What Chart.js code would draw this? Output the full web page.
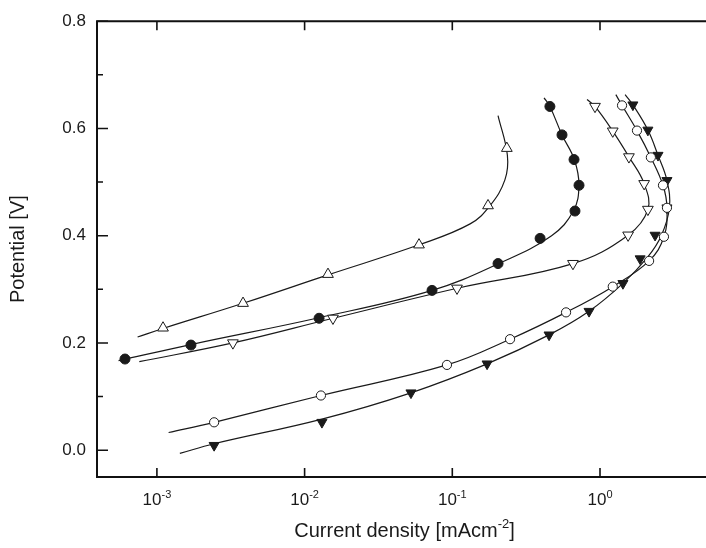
<!DOCTYPE html>
<html>
<head>
<meta charset="utf-8">
<script src="https://cdn.jsdelivr.net/npm/chart.js@4.4.1/dist/chart.umd.min.js"></script>
<style>
  html, body { margin: 0; padding: 0; background: #fff; }
  canvas { display: block; }
</style>
</head>
<body>
<canvas id="polChart" width="706" height="548"></canvas>
<script>
// axis ticks
const yTicks = [0, 0.2, 0.4, 0.6, 0.8];
const yMinorTicks = [0.1, 0.3, 0.5, 0.7];
const xDecades = [-3, -2, -1, 0];

// open triangles (up)
const triUpX = [0.0011, 0.00383, 0.0144, 0.0595, 0.1745, 0.234];
const triUpY = [0.228, 0.274, 0.328, 0.383, 0.456, 0.563];
const triUpFitX = [0.00074, 0.0011, 0.00383, 0.0144, 0.0595, 0.132, 0.18, 0.227, 0.236, 0.204];
const triUpFitY = [0.211, 0.227, 0.274, 0.327, 0.383, 0.422, 0.456, 0.504, 0.55, 0.624];

// filled circles
const dotX = [0.000608, 0.0017, 0.01253, 0.0729, 0.204, 0.393, 0.677, 0.721, 0.667, 0.553, 0.458];
const dotY = [0.170, 0.196, 0.246, 0.298, 0.348, 0.395, 0.446, 0.494, 0.542, 0.588, 0.641];
const dotFitX = [0.00055, 0.0017, 0.0125, 0.073, 0.21, 0.47, 0.66, 0.72, 0.67, 0.553, 0.458, 0.418];
const dotFitY = [0.167, 0.197, 0.247, 0.298, 0.349, 0.400, 0.446, 0.494, 0.542, 0.588, 0.641, 0.657];

// open triangles (down)
const triDnX = [0.00327, 0.01556, 0.1076, 0.656, 1.55, 2.11, 1.99, 1.57, 1.22, 0.925];
const triDnY = [0.200, 0.246, 0.302, 0.348, 0.401, 0.449, 0.497, 0.547, 0.595, 0.641];
const triDnFitX = [0.00076, 0.00327, 0.0156, 0.108, 0.656, 1.55, 2.11, 1.99, 1.57, 1.22, 0.925, 0.817];
const triDnFitY = [0.165, 0.200, 0.246, 0.302, 0.348, 0.401, 0.449, 0.497, 0.547, 0.595, 0.641, 0.654];

// open circles
const ringX = [0.00244, 0.0129, 0.092, 0.246, 0.589, 1.22, 2.15, 2.71, 2.84, 2.67, 2.21, 1.78, 1.41];
const ringY = [0.052, 0.102, 0.159, 0.207, 0.257, 0.305, 0.353, 0.398, 0.452, 0.494, 0.546, 0.596, 0.643];
const ringFitX = [0.0012, 0.00244, 0.0129, 0.092, 0.246, 0.589, 1.22, 2.15, 2.71, 2.84, 2.67, 2.21, 1.78, 1.41, 1.28];
const ringFitY = [0.033, 0.052, 0.102, 0.159, 0.207, 0.257, 0.305, 0.353, 0.398, 0.452, 0.494, 0.546, 0.596, 0.643, 0.663];

// filled triangles (down)
const solidX = [0.00244, 0.0131, 0.0525, 0.172, 0.452, 0.843, 1.43, 1.87, 2.36, 2.84, 2.84, 2.47, 2.11, 1.67];
const solidY = [0.009, 0.052, 0.107, 0.161, 0.215, 0.259, 0.311, 0.357, 0.401, 0.452, 0.503, 0.550, 0.597, 0.644];
const solidFitX = [0.00143, 0.00244, 0.0131, 0.0525, 0.172, 0.452, 0.843, 1.43, 2.1, 2.6, 2.95, 2.84, 2.47, 2.11, 1.67, 1.48];
const solidFitY = [-0.006, 0.012, 0.058, 0.107, 0.161, 0.215, 0.259, 0.311, 0.360, 0.400, 0.452, 0.503, 0.550, 0.597, 0.644, 0.663];

const ink = '#1a1a1a';
const fontFamily = 'Arial, "Liberation Sans", Helvetica, sans-serif';

function pts(xs, ys) {
    return xs.map((x, i) => ({ x: x, y: ys[i] }));
}

function fitLine(xs, ys) {
    return {
        data: pts(xs, ys),
        showLine: true,
        pointRadius: 0,
        borderColor: ink,
        borderWidth: 1.2,
        tension: 0.4,
        order: 2
    };
}

function markers(xs, ys, style, radius, rotation, fill) {
    return {
        data: pts(xs, ys),
        showLine: false,
        pointStyle: style,
        pointRadius: radius,
        pointRotation: rotation,
        pointBackgroundColor: fill,
        pointBorderColor: ink,
        pointBorderWidth: 1,
        order: 1
    };
}

// draws parts like [['10', 17, 0], ['-3', 11, 7]] centred on cx
function drawParts(ctx, parts, cx, baseY) {
    let total = 0;
    parts.forEach(p => {
        ctx.font = p[1] + 'px ' + fontFamily;
        total += ctx.measureText(p[0]).width;
    });
    let x0 = cx - total / 2;
    parts.forEach(p => {
        ctx.font = p[1] + 'px ' + fontFamily;
        ctx.fillText(p[0], x0, baseY - p[2]);
        x0 += ctx.measureText(p[0]).width;
    });
}

const framePlugin = {
    id: 'frame',
    afterDraw(chart) {
        const ctx = chart.ctx;
        const a = chart.chartArea;
        const xs = chart.scales.x;
        const ys = chart.scales.y;
        ctx.save();
        ctx.strokeStyle = '#111';
        ctx.lineWidth = 2;
        ctx.beginPath();
        ctx.moveTo(a.right, a.top);
        ctx.lineTo(a.left, a.top);
        ctx.lineTo(a.left, a.bottom);
        ctx.lineTo(a.right, a.bottom);
        ctx.stroke();

        ctx.lineWidth = 1.6;
        ctx.beginPath();
        yTicks.forEach(v => {
            const py = ys.getPixelForValue(v);
            ctx.moveTo(a.left, py);
            ctx.lineTo(a.left + 11, py);
        });
        yMinorTicks.forEach(v => {
            const py = ys.getPixelForValue(v);
            ctx.moveTo(a.left, py);
            ctx.lineTo(a.left + 6, py);
        });
        xDecades.forEach(d => {
            const px = xs.getPixelForValue(Math.pow(10, d));
            ctx.moveTo(px, a.bottom);
            ctx.lineTo(px, a.bottom - 9);
            ctx.moveTo(px, a.top);
            ctx.lineTo(px, a.top + 9);
        });
        ctx.stroke();

        ctx.fillStyle = ink;
        ctx.textAlign = 'left';
        ctx.textBaseline = 'alphabetic';
        xDecades.forEach(d => {
            const px = xs.getPixelForValue(Math.pow(10, d));
            drawParts(ctx, [['10', 17, 0], [String(d), 11, 7]], px, 505);
        });
        drawParts(ctx, [['Current density [mAcm', 20, 0], ['-2', 13, 9], [']', 20, 0]],
            (a.left + a.right) / 2 + 3, 537);
        ctx.restore();
    }
};

new Chart(document.getElementById('polChart'), {
    type: 'scatter',
    data: {
        datasets: [
            markers(triUpX, triUpY, 'triangle', 6.2, 0, '#fff'),
            markers(dotX, dotY, 'circle', 5, 0, ink),
            markers(triDnX, triDnY, 'triangle', 6.2, 180, '#fff'),
            markers(ringX, ringY, 'circle', 4.6, 0, '#fff'),
            markers(solidX, solidY, 'triangle', 5.8, 180, ink),
            fitLine(triUpFitX, triUpFitY),
            fitLine(dotFitX, dotFitY),
            fitLine(triDnFitX, triDnFitY),
            fitLine(ringFitX, ringFitY),
            fitLine(solidFitX, solidFitY)
        ]
    },
    options: {
        responsive: false,
        animation: false,
        devicePixelRatio: 1,
        layout: { autoPadding: false, padding: { top: 18, right: 0, left: 0, bottom: 0 } },
        plugins: {
            legend: { display: false },
            tooltip: { enabled: false }
        },
        scales: {
            x: {
                type: 'logarithmic',
                min: 0.000393,
                max: 5.22,
                grid: { display: false, drawTicks: false },
                border: { display: false },
                ticks: { display: false },
                afterFit: s => { s.height = 71; }
            },
            y: {
                type: 'linear',
                min: -0.05,
                max: 0.8,
                grid: { display: false, drawTicks: false },
                border: { display: false },
                afterBuildTicks: s => { s.ticks = yTicks.map(v => ({ value: v })); },
                ticks: {
                    color: ink,
                    padding: 11,
                    font: { size: 17, family: fontFamily },
                    callback: v => v.toFixed(1)
                },
                title: {
                    display: true,
                    text: 'Potential [V]',
                    color: ink,
                    font: { size: 20, family: fontFamily },
                    padding: { top: 6, bottom: 0 }
                },
                afterFit: s => { s.width = 97; }
            }
        }
    },
    plugins: [framePlugin]
});
</script>
</body>
</html>
